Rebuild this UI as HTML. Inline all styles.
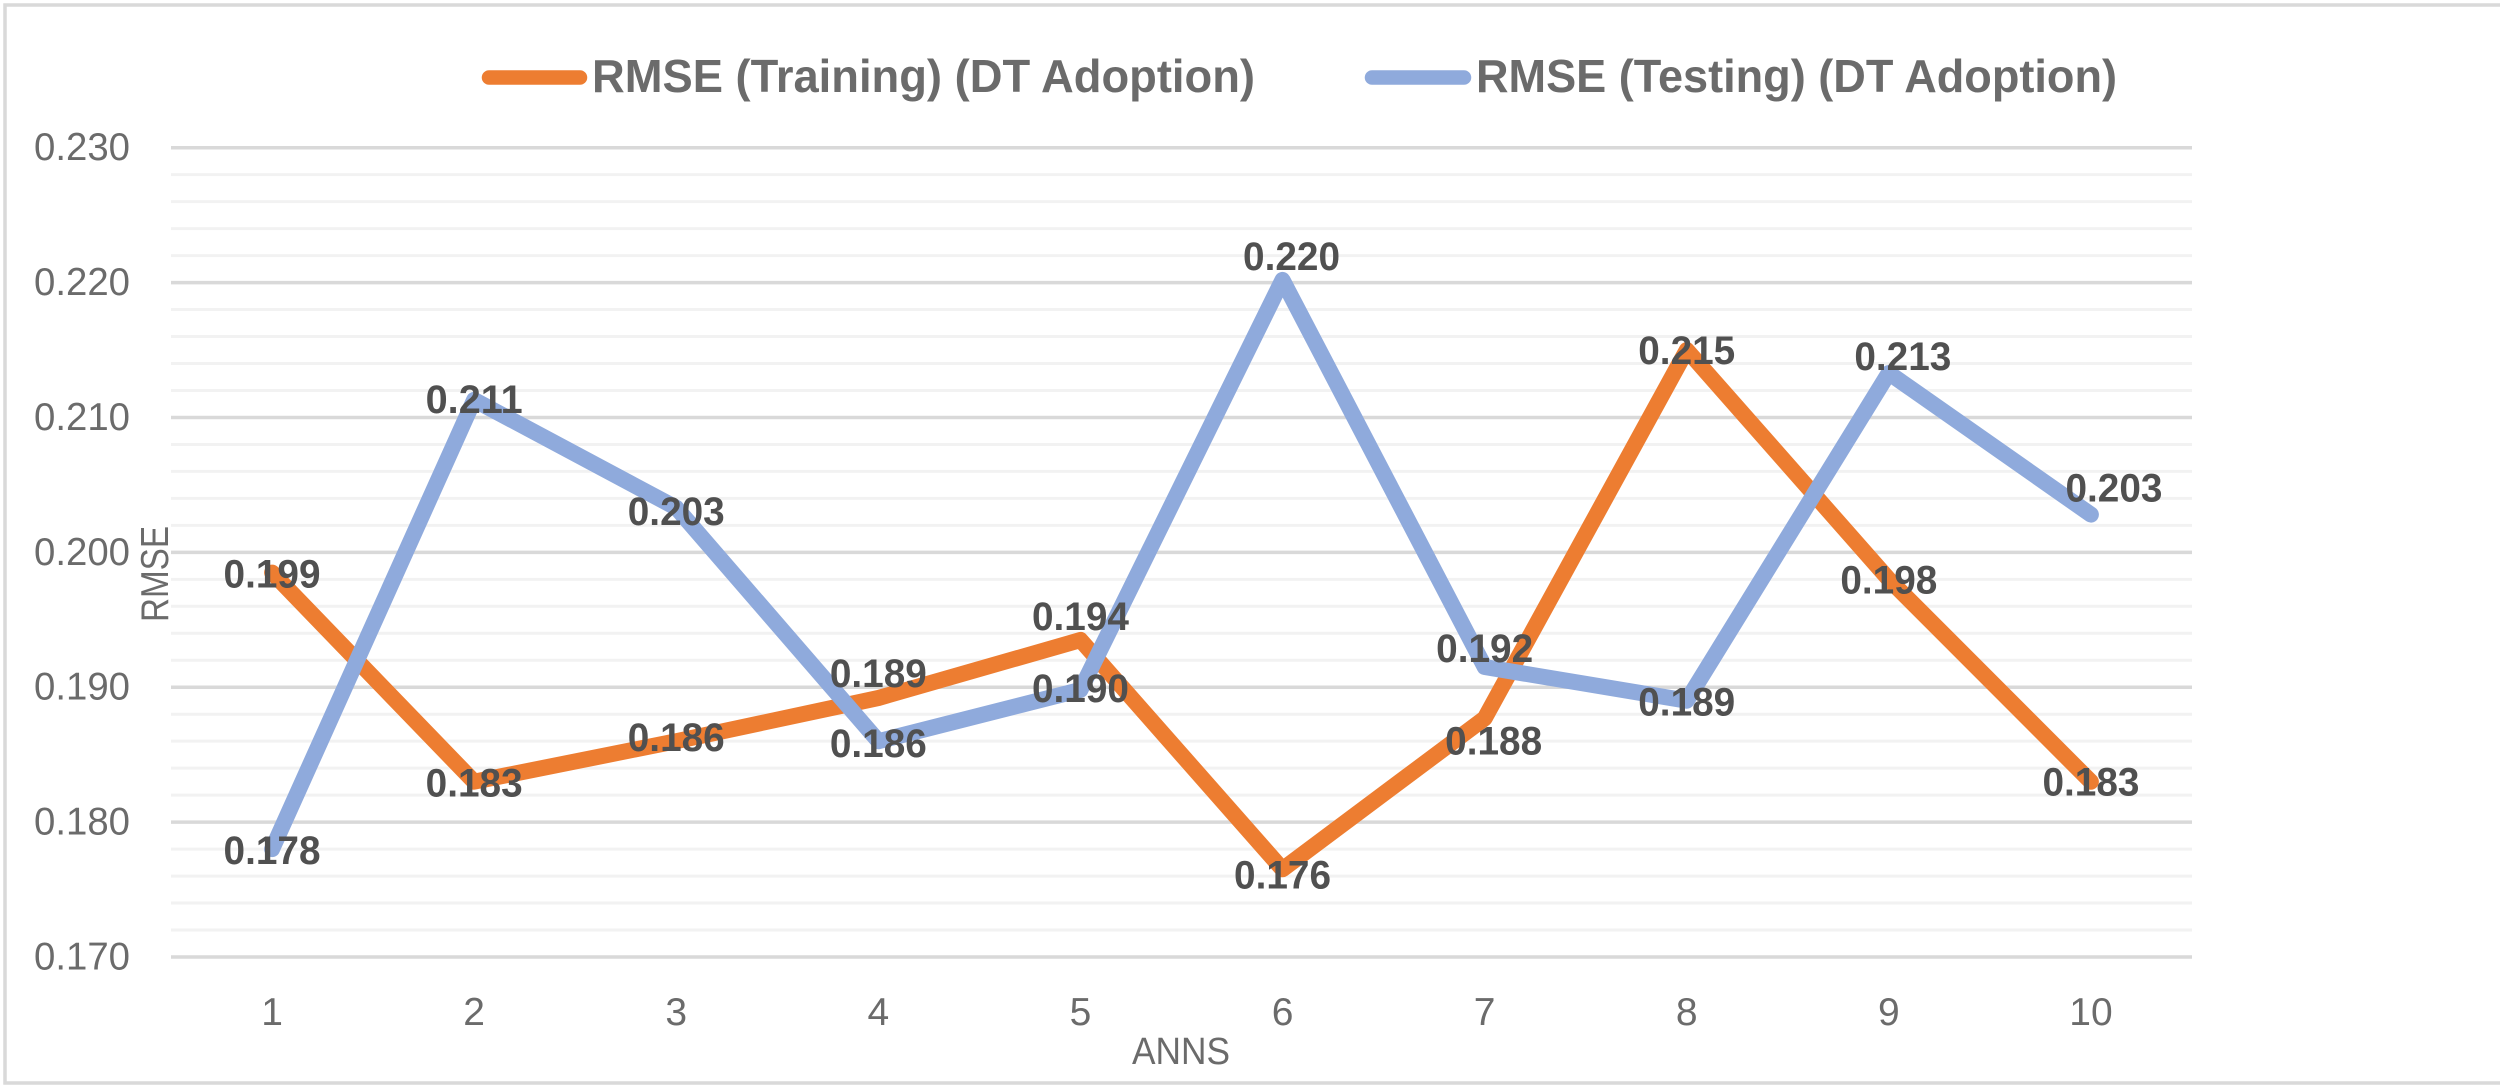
<!DOCTYPE html>
<html lang="en">
<head>
<meta charset="utf-8">
<title>RMSE chart</title>
<style>
html,body{margin:0;padding:0;background:#fff;width:2500px;height:1088px;overflow:hidden}
svg{display:block}
text{font-family:"Liberation Sans",sans-serif}
</style>
</head>
<body>
<svg id="chart" xmlns="http://www.w3.org/2000/svg" width="2500" height="1088" viewBox="0 0 2500 1088">
  <rect x="5" y="5" width="2500" height="1078" fill="#fff" stroke="#d9d9d9" stroke-width="3.5"/>
  <g id="grid"></g>
  <g id="yticks"></g>
  <g id="xticks"></g>
  <g id="lines"></g>
  <g id="labels"></g>
  <text transform="translate(168 574) rotate(-90)" text-anchor="middle" font-size="39" fill="#6b6b6b" textLength="96" lengthAdjust="spacingAndGlyphs">RMSE</text>
  <text x="1181" y="1064" text-anchor="middle" font-size="38" fill="#6b6b6b" textLength="98" lengthAdjust="spacingAndGlyphs">ANNS</text>
  <g>
    <g>
      <line x1="489" y1="77.5" x2="580" y2="77.5" stroke="#ed7d31" stroke-width="14.5" stroke-linecap="round"/>
      <text x="592" y="92" font-size="46" font-weight="700" fill="#6b6b6b" textLength="663" lengthAdjust="spacingAndGlyphs">RMSE (Training) (DT Adoption)</text>
    </g>
    <g>
      <line x1="1372" y1="77.5" x2="1464" y2="77.5" stroke="#8faadc" stroke-width="14.5" stroke-linecap="round"/>
      <text x="1476" y="92" font-size="46" font-weight="700" fill="#6b6b6b" textLength="641" lengthAdjust="spacingAndGlyphs">RMSE (Testing) (DT Adoption)</text>
    </g>
  </g>
</svg>
<script>
const categories = ['1','2','3','4','5','6','7','8','9','10'];
const trainingValues = [0.1985,0.183,0.186,0.1892,0.1935,0.1765,0.1877,0.215,0.198,0.183];
const testingValues = [0.178,0.2113,0.2033,0.186,0.1898,0.2202,0.1915,0.189,0.2133,0.2028];
const trainingLabels = ['0.199','0.183','0.186','0.189','0.194','0.176','0.188','0.215','0.198','0.183'];
const testingLabels = ['0.178','0.211','0.203','0.186','0.190','0.220','0.192','0.189','0.213','0.203'];
const majorTicks = ['0.170','0.180','0.190','0.200','0.210','0.220','0.230'];
const axisMin = 0.17;
const axisMax = 0.23;
const minorStep = 0.002;

const NS = 'http://www.w3.org/2000/svg';
const plotLeft = 171, plotRight = 2192, plotTop = 147.7, plotBottom = 957;
const xScale = i => plotLeft + (plotRight - plotLeft) * (i + 0.5) / categories.length;
const yScale = v => plotBottom - (v - axisMin) / (axisMax - axisMin) * (plotBottom - plotTop);

// Label placement relative to each point, in px: [dx, dy] of the label centre.
const trainingNudges = [[0,1],[0,1],[0,-4],[0,-25],[0,-24],[0,5],[9,22],[0,0],[0,0],[0,0]];
const testingNudges = [[0,1],[0,-1],[0,3],[0,2],[0,-2],[9,-24],[0,-19],[0,1],[14,-17],[23,-27]];

function svgEl(tag, attrs, parent) {
  const el = document.createElementNS(NS, tag);
  for (const k in attrs) el.setAttribute(k, attrs[k]);
  parent.appendChild(el);
  return el;
}

const grid = document.getElementById('grid');
const minorCount = Math.round((axisMax - axisMin) / minorStep);
for (let i = 0; i <= minorCount; i++) {
  if (i % 5 === 0) continue;
  const y = yScale(axisMin + i * minorStep);
  const el = svgEl('line', {x1: plotLeft, x2: plotRight, y1: y, y2: y, stroke: '#f2f2f2', 'stroke-width': 3}, grid);
  
  
}
const yticks = document.getElementById('yticks');
majorTicks.forEach(t => {
  const y = yScale(parseFloat(t));
  const line = svgEl('line', {x1: plotLeft, x2: plotRight, y1: y, y2: y, stroke: '#d9d9d9', 'stroke-width': 3.5}, grid);
  
  
  const label = svgEl('text', {x: 130, y: y + 12.5, 'text-anchor': 'end', 'font-size': 39, fill: '#6b6b6b', textLength: 96, lengthAdjust: 'spacingAndGlyphs'}, yticks);
  
  
  label.textContent = t;
});
const xticks = document.getElementById('xticks');
categories.forEach((c, i) => {
  const label = svgEl('text', {x: xScale(i), y: 1025, 'text-anchor': 'middle', 'font-size': 39, fill: '#6b6b6b'}, xticks);
  
  
  label.textContent = c;
});

const linesGroup = document.getElementById('lines');
const labelsGroup = document.getElementById('labels');
function drawLine(values, color, name) {
  const pts = values.map((v, i) => xScale(i).toFixed(1) + ',' + yScale(v).toFixed(1)).join(' ');
  const line = svgEl('polyline', {points: pts, fill: 'none', stroke: color, 'stroke-width': 16, 'stroke-linejoin': 'round', 'stroke-linecap': 'round'}, linesGroup);
  
  
}
function drawLabels(values, texts, nudges) {
  values.forEach((v, i) => {
    const label = svgEl('text', {x: xScale(i) + nudges[i][0], y: yScale(v) + nudges[i][1] + 14, 'text-anchor': 'middle', 'font-size': 40, 'font-weight': 700, fill: '#505050', textLength: 97, lengthAdjust: 'spacingAndGlyphs'}, labelsGroup);
    
    
    label.textContent = texts[i];
  });
}
drawLine(trainingValues, '#ed7d31', 'series-line-training');
drawLine(testingValues, '#8faadc', 'series-line-testing');
drawLabels(trainingValues, trainingLabels, trainingNudges);
drawLabels(testingValues, testingLabels, testingNudges);
</script>
</body>
</html>
